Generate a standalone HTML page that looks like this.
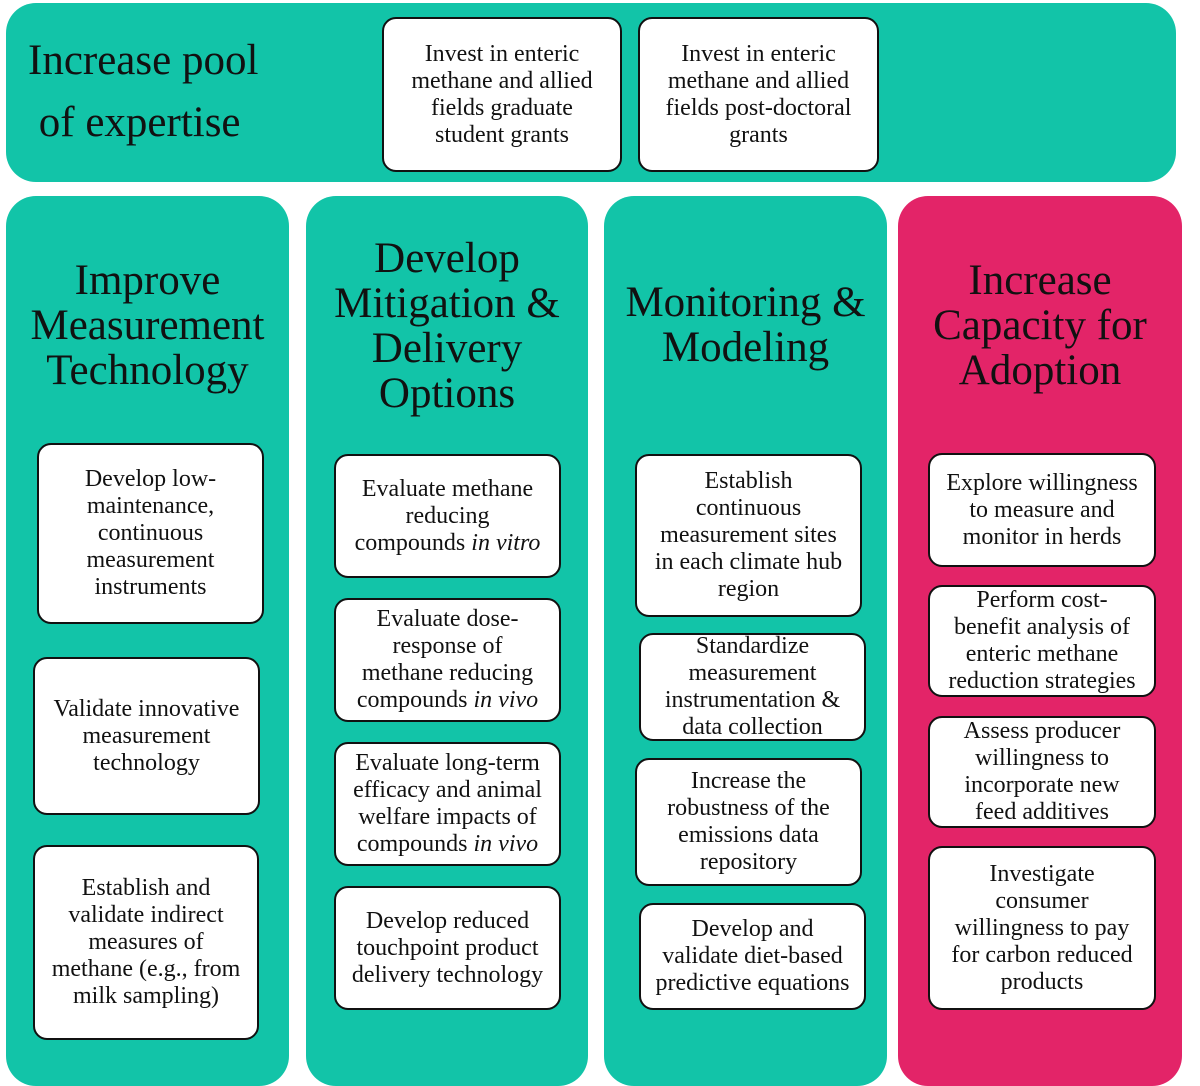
<!DOCTYPE html><html><head><style>
body{margin:0;width:1200px;height:1054px;background:#fff;overflow:hidden;position:relative;font-family:"Liberation Serif",serif;color:#111}
.p{position:absolute;background:#12c4a8;border-radius:30px}
.t{position:absolute;text-align:center;font-size:43px;line-height:45px}
.b{position:absolute;background:#fff;border:2px solid #111;border-radius:14px;box-sizing:border-box;display:flex;align-items:center;justify-content:center;text-align:center;font-size:24px;line-height:27px;padding:0;white-space:nowrap}
.b span{display:block}
</style></head><body>
<div class="p" style="left:6px;top:3px;width:1170px;height:179px"></div>
<div style="position:absolute;left:28px;top:30px;font-size:43px;line-height:62px">Increase pool<br>&nbsp;of expertise</div>
<div class="b" style="left:382px;top:17px;width:240px;height:155px"><span>Invest in enteric<br>methane and allied<br>fields graduate<br>student grants</span></div>
<div class="b" style="left:638px;top:17px;width:241px;height:155px"><span>Invest in enteric<br>methane and allied<br>fields post-doctoral<br>grants</span></div>

<div class="p" style="left:6px;top:196px;width:283px;height:890px"></div>
<div class="p" style="left:306px;top:196px;width:282px;height:890px"></div>
<div class="p" style="left:604px;top:196px;width:283px;height:890px"></div>
<div class="p" style="left:898px;top:196px;width:284px;height:890px;background:#e32468"></div>

<div class="t" style="left:0px;top:258px;width:295px">Improve<br>Measurement<br>Technology</div>
<div class="t" style="left:300px;top:236px;width:294px">Develop<br>Mitigation &amp;<br>Delivery<br>Options</div>
<div class="t" style="left:598px;top:280px;width:295px">Monitoring &amp;<br>Modeling</div>
<div class="t" style="left:892px;top:258px;width:296px">Increase<br>Capacity for<br>Adoption</div>

<div class="b" style="left:37px;top:443px;width:227px;height:181px"><span>Develop low-<br>maintenance,<br>continuous<br>measurement<br>instruments</span></div>
<div class="b" style="left:33px;top:657px;width:227px;height:158px"><span>Validate innovative<br>measurement<br>technology</span></div>
<div class="b" style="left:33px;top:845px;width:226px;height:195px"><span>Establish and<br>validate indirect<br>measures of<br>methane (e.g., from<br>milk sampling)</span></div>

<div class="b" style="left:334px;top:454px;width:227px;height:124px"><span>Evaluate methane<br>reducing<br>compounds <i>in vitro</i></span></div>
<div class="b" style="left:334px;top:598px;width:227px;height:124px"><span>Evaluate dose-<br>response of<br>methane reducing<br>compounds <i>in vivo</i></span></div>
<div class="b" style="left:334px;top:742px;width:227px;height:124px"><span>Evaluate long-term<br>efficacy and animal<br>welfare impacts of<br>compounds <i>in vivo</i></span></div>
<div class="b" style="left:334px;top:886px;width:227px;height:124px"><span>Develop reduced<br>touchpoint product<br>delivery technology</span></div>

<div class="b" style="left:635px;top:454px;width:227px;height:163px"><span>Establish<br>continuous<br>measurement sites<br>in each climate hub<br>region</span></div>
<div class="b" style="left:639px;top:633px;width:227px;height:108px"><span>Standardize<br>measurement<br>instrumentation &amp;<br>data collection</span></div>
<div class="b" style="left:635px;top:758px;width:227px;height:128px"><span>Increase the<br>robustness of the<br>emissions data<br>repository</span></div>
<div class="b" style="left:639px;top:903px;width:227px;height:107px"><span>Develop and<br>validate diet-based<br>predictive equations</span></div>

<div class="b" style="left:928px;top:453px;width:228px;height:114px"><span>Explore willingness<br>to measure and<br>monitor in herds</span></div>
<div class="b" style="left:928px;top:585px;width:228px;height:112px"><span>Perform cost-<br>benefit analysis of<br>enteric methane<br>reduction strategies</span></div>
<div class="b" style="left:928px;top:716px;width:228px;height:112px"><span>Assess producer<br>willingness to<br>incorporate new<br>feed additives</span></div>
<div class="b" style="left:928px;top:846px;width:228px;height:164px"><span>Investigate<br>consumer<br>willingness to pay<br>for carbon reduced<br>products</span></div>
</body></html>
